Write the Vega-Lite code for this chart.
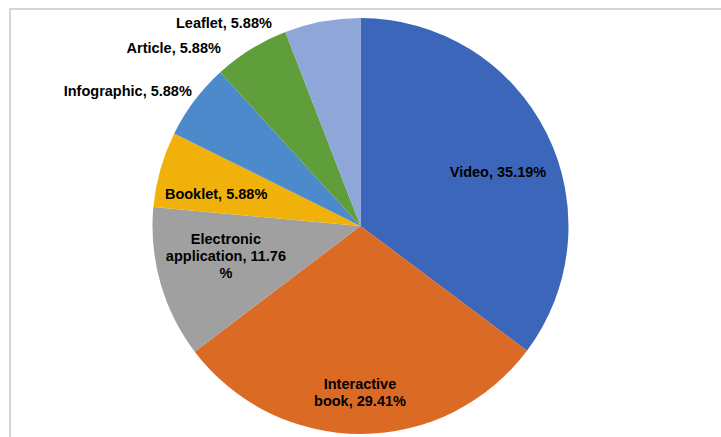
{
  "$schema": "https://vega.github.io/schema/vega-lite/v6.json",
  "width": 721,
  "height": 434,
  "autosize": {"type": "none"},
  "padding": {"left": 10, "top": 9, "right": 0, "bottom": 0},
  "background": "white",
  "view": {"stroke": "#c9c9c9", "strokeWidth": 1.5},
  "data": {
    "values": [
      {"type": "Video", "pct": 35.19, "ord": 1, "label": "Video, 35.19%"},
      {"type": "Interactive book", "pct": 29.41, "ord": 2, "label": "Interactive\nbook, 29.41%"},
      {"type": "Electronic application", "pct": 11.76, "ord": 3, "label": "Electronic\napplication, 11.76\n%"},
      {"type": "Booklet", "pct": 5.88, "ord": 4, "label": "Booklet, 5.88%"},
      {"type": "Infographic", "pct": 5.88, "ord": 5, "label": "Infographic, 5.88%"},
      {"type": "Article", "pct": 5.88, "ord": 6, "label": "Article, 5.88%"},
      {"type": "Leaflet", "pct": 5.88, "ord": 7, "label": "Leaflet, 5.88%"}
    ]
  },
  "encoding": {
    "theta": {"field": "pct", "type": "quantitative", "stack": true},
    "order": {"field": "ord", "type": "quantitative"}
  },
  "layer": [
    {
      "mark": {"type": "arc", "radius": 208, "xOffset": -10, "stroke": null},
      "encoding": {
        "color": {
          "field": "type",
          "type": "nominal",
          "legend": null,
          "scale": {
            "domain": ["Video", "Interactive book", "Electronic application", "Booklet", "Infographic", "Article", "Leaflet"],
            "range": ["#3b66b9", "#db6b24", "#a0a0a0", "#f0b20a", "#4d8acb", "#5f9e3a", "#8fa6d8"]
          }
        }
      }
    },
    {
      "mark": {"type": "text", "radius": 147, "dx": -4, "dy": 13, "align": "center", "baseline": "middle", "font": "Liberation Sans", "fontWeight": "bold", "fontSize": 14.5, "color": "#000", "lineBreak": "\n", "lineHeight": 17},
      "encoding": {"text": {"condition": {"test": "datum.type === 'Video'", "field": "label"}, "value": ""}}
    },
    {
      "mark": {"type": "text", "radius": 167, "dx": -11, "dy": -8, "align": "center", "baseline": "middle", "font": "Liberation Sans", "fontWeight": "bold", "fontSize": 14.5, "color": "#000", "lineBreak": "\n", "lineHeight": 17},
      "encoding": {"text": {"condition": {"test": "datum.type === 'Interactive book'", "field": "label"}, "value": ""}}
    },
    {
      "mark": {"type": "text", "radius": 140, "dx": -10, "dy": -25, "align": "center", "baseline": "middle", "font": "Liberation Sans", "fontWeight": "bold", "fontSize": 14.5, "color": "#000", "lineBreak": "\n", "lineHeight": 17},
      "encoding": {"text": {"condition": {"test": "datum.type === 'Electronic application'", "field": "label"}, "value": ""}}
    },
    {
      "mark": {"type": "text", "radius": 148, "dx": -12, "dy": 9, "align": "center", "baseline": "middle", "font": "Liberation Sans", "fontWeight": "bold", "fontSize": 14.5, "color": "#000", "lineBreak": "\n", "lineHeight": 17},
      "encoding": {"text": {"condition": {"test": "datum.type === 'Booklet'", "field": "label"}, "value": ""}}
    },
    {
      "mark": {"type": "text", "radius": 210, "dx": -11, "dy": -8, "align": "right", "baseline": "middle", "font": "Liberation Sans", "fontWeight": "bold", "fontSize": 14.5, "color": "#000", "lineBreak": "\n", "lineHeight": 17},
      "encoding": {"text": {"condition": {"test": "datum.type === 'Infographic'", "field": "label"}, "value": ""}}
    },
    {
      "mark": {"type": "text", "radius": 210, "dx": -39, "dy": 1, "align": "right", "baseline": "middle", "font": "Liberation Sans", "fontWeight": "bold", "fontSize": 14.5, "color": "#000", "lineBreak": "\n", "lineHeight": 17},
      "encoding": {"text": {"condition": {"test": "datum.type === 'Article'", "field": "label"}, "value": ""}}
    },
    {
      "mark": {"type": "text", "radius": 210, "dx": -60, "dy": 4, "align": "right", "baseline": "middle", "font": "Liberation Sans", "fontWeight": "bold", "fontSize": 14.5, "color": "#000", "lineBreak": "\n", "lineHeight": 17},
      "encoding": {"text": {"condition": {"test": "datum.type === 'Leaflet'", "field": "label"}, "value": ""}}
    }
  ]
}
